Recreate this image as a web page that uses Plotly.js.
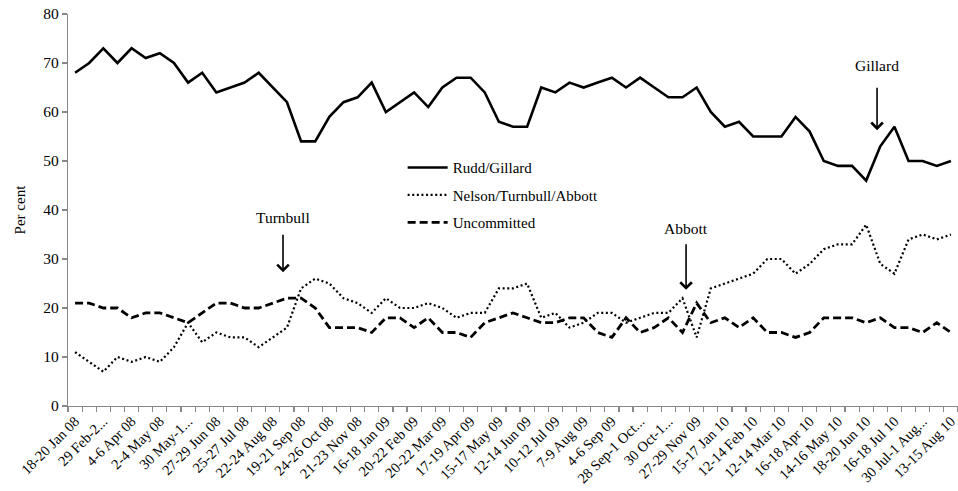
<!DOCTYPE html>
<html>
<head>
<meta charset="utf-8">
<script src="https://cdn.plot.ly/plotly-3.0.1.min.js"></script>
<style>html,body{margin:0;padding:0;background:#fff;}#chart{width:958px;height:491px;}</style>
</head>
<body>
<div id="chart"></div>
<script>
const tickLabels = [
  "18-20 Jan 08", "29 Feb-2...", "4-6 Apr 08", "2-4 May 08", "30 May-1...", "27-29 Jun 08",
  "25-27 Jul 08", "22-24 Aug 08", "19-21 Sep 08", "24-26 Oct 08", "21-23 Nov 08", "16-18 Jan 09",
  "20-22 Feb 09", "20-22 Mar 09", "17-19 Apr 09", "15-17 May 09", "12-14 Jun 09", "10-12 Jul 09",
  "7-9 Aug 09", "4-6 Sep 09", "28 Sep-1 Oct...", "30 Oct-1...", "27-29 Nov 09", "15-17 Jan 10",
  "12-14 Feb 10", "12-14 Mar 10", "16-18 Apr 10", "14-16 May 10", "18-20 Jun 10", "16-18 Jul 10",
  "30 Jul-1 Aug...", "13-15 Aug 10"
];

const ruddGillard = [
  68,70,73,70,73,71,72,70,66,68,64,65,66,68,65,62,54,54,59,62,63,
  66,60,62,64,61,65,67,67,64,58,57,57,65,64,66,65,66,67,65,67,
  65,63,63,65,60,57,58,55,55,55,59,56,50,49,49,46,53,57,50,50,49,50
];

const nelsonTurnbullAbbott = [
  11,9,7,10,9,10,9,12,17,13,15,14,14,12,14,16,24,26,25,22,21,
  19,22,20,20,21,20,18,19,19,24,24,25,18,19,16,17,19,19,17,18,
  19,19,22,14,24,25,26,27,30,30,27,29,32,33,33,37,29,27,34,35,34,35
];

const uncommitted = [
  21,21,20,20,18,19,19,18,17,19,21,21,20,20,21,22,22,20,16,16,16,
  15,18,18,16,18,15,15,14,17,18,19,18,17,17,18,18,15,14,18,15,
  16,18,15,21,17,18,16,18,15,15,14,15,18,18,18,17,18,16,16,15,17,15
];

const eventLabels = ["Turnbull", "Abbott", "Gillard"];
const eventX = [15.72, 44.25, 57.77];
const eventArrowHeadY = [27.3, 23.7, 56.3];
const eventTextY = [38.4, 36.3, 69.4];
const eventArrowLen = [-39, -47, -44];

const idx = ruddGillard.map((_, i) => i + 1);
const labelVals = tickLabels.map((_, k) => 2 * k + 1);
const boundaries = [];
for (let i = 0; i <= ruddGillard.length; i++) boundaries.push(i + 0.5);
const xr = [0.5, ruddGillard.length + 0.5];

const serif = "Liberation Serif, Times New Roman, serif";

const traces = [
  {x: idx, y: ruddGillard, name: "Rudd/Gillard", type: "scatter", mode: "lines",
   line: {color: "#000", width: 2.6}, legendgroup: "a"},
  {x: idx, y: nelsonTurnbullAbbott, name: "Nelson/Turnbull/Abbott", type: "scatter", mode: "lines",
   line: {color: "#000", width: 2.2, dash: "2px,2.6px"}, legendgroup: "b"},
  {x: idx, y: uncommitted, name: "Uncommitted", type: "scatter", mode: "lines",
   line: {color: "#000", width: 2.8, dash: "8px,4px"}, legendgroup: "c"},
  {x: xr, y: [null, null], xaxis: "x2", type: "scatter", mode: "lines", showlegend: false, hoverinfo: "skip"}
];

const annotations = [];
eventLabels.forEach((t, k) => {
  annotations.push({x: eventX[k], y: eventArrowHeadY[k], xref: "x", yref: "y", text: "",
    showarrow: true, ax: 0, ay: eventArrowLen[k], arrowhead: 4, arrowsize: 1.4, arrowwidth: 1.6, arrowcolor: "#000"});
  annotations.push({x: eventX[k], y: eventTextY[k], xref: "x", yref: "y", text: t, showarrow: false,
    font: {family: serif, size: 15.5, color: "#000"}});
});

const layout = {
  width: 958, height: 491,
  margin: {l: 68, r: 0, t: 14, b: 85, pad: 0},
  paper_bgcolor: "#fff", plot_bgcolor: "#fff",
  showlegend: true,
  legend: {x: 0.376, y: 0.65, xanchor: "left", yanchor: "top", bgcolor: "rgba(0,0,0,0)",
    font: {family: serif, size: 15, color: "#000"}, itemwidth: 40, tracegroupgap: 5, traceorder: "grouped"},
  xaxis: {range: xr, tickmode: "array", tickvals: labelVals, ticktext: tickLabels, tickangle: -45,
    ticks: "", showline: true, linecolor: "#888", linewidth: 1.2, showgrid: false, zeroline: false,
    ticklabeloverflow: "allow",
    tickfont: {family: serif, size: 14.5, color: "#000"}, fixedrange: true},
  xaxis2: {range: xr, overlaying: "x", anchor: "y", side: "bottom", tickmode: "array", tickvals: boundaries,
    ticks: "outside", ticklen: 5, tickcolor: "#888", tickwidth: 1.2, showticklabels: false, showgrid: false,
    zeroline: false, showline: false},
  yaxis: {range: [0, 80], dtick: 10, tick0: 0, ticks: "outside", ticklen: 5, tickcolor: "#888", tickwidth: 1.2,
    showline: true, linecolor: "#888", linewidth: 1.2, showgrid: false, zeroline: false,
    tickfont: {family: serif, size: 15.5, color: "#000"},
    title: {text: "Per cent", font: {family: serif, size: 15, color: "#000"}, standoff: 14}},
  annotations: annotations
};

Plotly.newPlot("chart", traces, layout, {displayModeBar: false, staticPlot: true});
</script>
</body>
</html>
